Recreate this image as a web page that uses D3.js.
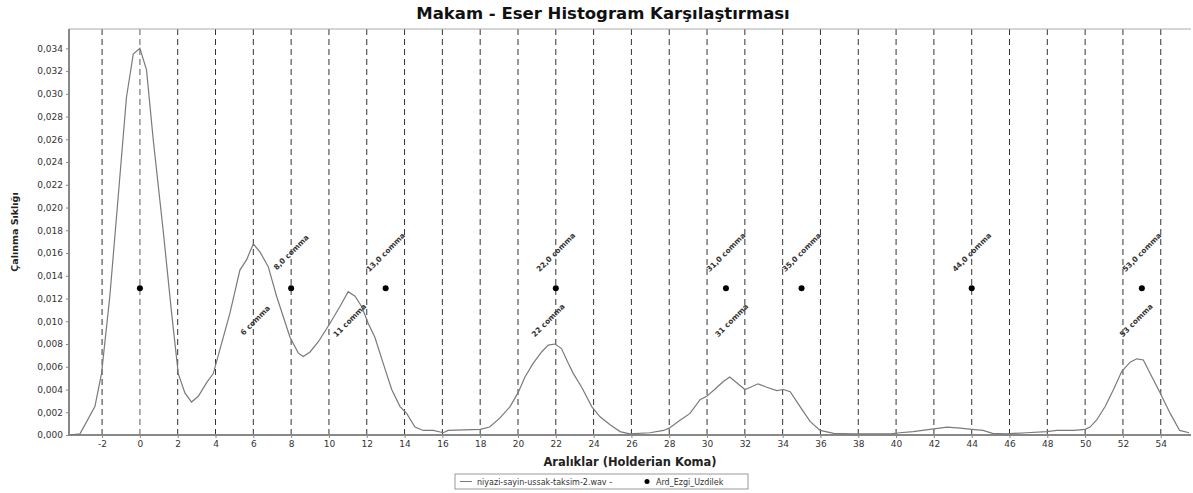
<!DOCTYPE html>
<html><head><meta charset="utf-8">
<script src="https://cdn.jsdelivr.net/npm/d3@7"></script>
<style>body{margin:0;background:#fff}svg{display:block}</style>
</head><body><svg id="c" width="1193" height="493"></svg>
<script>
const titleText = "Makam - Eser Histogram Karşılaştırması";
const xTitle = "Aralıklar (Holderian Koma)";
const yTitle = "Çalınma Sıklığı";
const seriesName = "niyazi-sayin-ussak-taksim-2.wav";
const pointSeriesName = "Ard_Ezgi_Uzdilek";
const xTicks = d3.range(-2, 55, 2);
const yTicks = d3.range(0, 0.0341, 0.002);
const curveX = [-3.75,-3.17,-2.38,-2.03,-1.59,-1.15,-0.71,-0.35,0,0.35,0.71,1.23,1.68,2.03,2.38,2.73,3.09,3.53,3.88,4.23,4.76,5.29,5.64,6.0,6.35,6.79,7.23,7.94,8.38,8.64,9.0,9.44,10.05,10.58,11.02,11.38,11.73,12.08,12.43,12.87,13.32,13.76,14.11,14.55,14.99,15.52,16.05,16.3,18.0,18.5,19.05,19.58,20.0,20.37,20.8,21.25,21.6,21.96,22.3,22.66,22.93,23.37,23.9,24.34,24.87,25.4,25.9,26.98,27.7,28.0,28.57,29.1,29.63,29.98,30.4,30.86,31.2,31.57,32.0,32.3,32.7,33.16,33.69,34.04,34.4,34.92,35.45,35.98,36.7,37.7,39.7,40.2,40.9,41.8,42.7,43.4,44.0,44.6,45.1,45.8,46.9,47.97,48.5,49.4,50.0,50.26,50.6,51.06,51.5,51.94,52.38,52.73,53.08,53.44,53.97,54.5,55.0,55.5];
const curveY = [0,0.0001,0.0025,0.0054,0.0122,0.0209,0.0297,0.0335,0.0340,0.0321,0.0259,0.0180,0.0107,0.0054,0.0037,0.0029,0.0034,0.0046,0.0054,0.0075,0.0107,0.0145,0.0154,0.0168,0.0161,0.0148,0.0122,0.0086,0.0072,0.0069,0.0073,0.0082,0.0098,0.0113,0.0126,0.0122,0.0113,0.0098,0.0086,0.0063,0.0040,0.0025,0.0019,0.0007,0.0004,0.0004,0.0002,0.0004,0.0005,0.0007,0.0015,0.0025,0.0037,0.0051,0.0063,0.0073,0.0079,0.0080,0.0076,0.0063,0.0054,0.0042,0.0025,0.0016,0.0009,0.0003,0.0001,0.0002,0.0004,0.0006,0.0013,0.0019,0.0031,0.0034,0.0040,0.0047,0.0051,0.0046,0.0040,0.0042,0.0045,0.0042,0.0039,0.0040,0.0038,0.0025,0.0012,0.0004,0.00015,0.0001,0.0001,0.0002,0.0003,0.0005,0.0007,0.0006,0.0005,0.0004,0.00015,0.0001,0.0002,0.0003,0.0004,0.0004,0.0005,0.0007,0.0013,0.0025,0.0040,0.0056,0.0064,0.0067,0.0066,0.0054,0.0037,0.0019,0.0004,0.0002];
const pointX = [0, 8, 13, 22, 31, 35, 44, 53];
const pointY = [0.0129, 0.0129, 0.0129, 0.0129, 0.0129, 0.0129, 0.0129, 0.0129];
const pointLabels = ["", "8,0 comma", "13,0 comma", "22,0 comma", "31,0 comma", "35,0 comma", "44,0 comma", "53,0 comma"];
const peakX = [6.1, 11.1, 21.6, 31.3, 52.7];
const peakLabels = ["6 comma", "11 comma", "22 comma", "31 comma", "53 comma"];

const svg = d3.select("#c");
const L = 69, R = 1191, T = 29, B = 435;
const x = d3.scaleLinear().domain([-3.75, 55.6]).range([L, R]);
const y = d3.scaleLinear().domain([0, 0.0357]).range([B, T]);
const font = "'DejaVu Sans', Verdana, sans-serif";

svg.append("text").attr("x", 603).attr("y", 19).attr("text-anchor", "middle")
  .attr("font-family", font).attr("font-weight", "bold").attr("font-size", 16.5)
  .attr("fill", "#111").text(titleText);

// dashed vertical lines
svg.append("g").selectAll("line").data(xTicks).join("line")
  .attr("x1", d => x(d)).attr("x2", d => x(d)).attr("y1", T).attr("y2", B)
  .attr("stroke", d => d === 0 ? "#999" : "#333").attr("stroke-width", d => d === 0 ? 1.6 : 1)
  .attr("stroke-dasharray", "6,4");

// frame lines
svg.append("line").attr("x1", L).attr("x2", R).attr("y1", T).attr("y2", T).attr("stroke", "#aaa");

// axes
const yAxis = d3.axisLeft(y).tickValues(yTicks).tickSize(3)
  .tickFormat(d => d3.format(".3f")(d).replace(".", ","));
const gy = svg.append("g").attr("transform", `translate(${L},0)`).call(yAxis);
const xAxis = d3.axisBottom(x).tickValues(xTicks).tickSize(3).tickFormat(d => String(d));
const gx = svg.append("g").attr("transform", `translate(0,${B})`).call(xAxis);
[gx, gy].forEach(g => {
  g.select(".domain").attr("stroke", "#888").attr("stroke-width", 2);
  g.selectAll(".tick line").attr("stroke", "#888");
  g.selectAll("text").attr("font-family", font).attr("font-size", 9).attr("fill", "#333");
});
gx.select(".domain").attr("d", `M${L},0H${R}`);
gy.select(".domain").attr("d", `M0,${T}V${B}`);

// curve
const data = curveX.map((d, i) => [d, curveY[i]]);
svg.append("path").datum(data)
  .attr("d", d3.line().x(d => x(d[0])).y(d => y(d[1])))
  .attr("fill", "none").attr("stroke", "#7a7a7a").attr("stroke-width", 1.2);

// points
const pts = pointX.map((d, i) => ({x: d, y: pointY[i], label: pointLabels[i]}));
svg.append("g").selectAll("circle").data(pts).join("circle")
  .attr("cx", d => x(d.x)).attr("cy", d => y(d.y)).attr("r", 3).attr("fill", "#000");
svg.append("g").selectAll("text").data(pts.filter(d => d.label)).join("text")
  .attr("transform", d => `translate(${x(d.x)},${y(d.y) - 36}) rotate(-45)`)
  .attr("text-anchor", "middle").attr("dy", "0.35em")
  .attr("font-family", font).attr("font-weight", "bold").attr("font-size", 7.5).attr("fill", "#333").text(d => d.label);
svg.append("g").selectAll("text").data(peakX.map((d, i) => ({x: d, label: peakLabels[i]}))).join("text")
  .attr("transform", d => `translate(${x(d.x)},${y(pointY[0]) + 32}) rotate(-45)`)
  .attr("text-anchor", "middle").attr("dy", "0.35em")
  .attr("font-family", font).attr("font-weight", "bold").attr("font-size", 7.5).attr("fill", "#333").text(d => d.label);

// axis titles
svg.append("text").attr("x", (L + R) / 2).attr("y", 466).attr("text-anchor", "middle")
  .attr("font-family", font).attr("font-weight", "bold").attr("font-size", 11.5)
  .attr("fill", "#222").text(xTitle);
svg.append("text").attr("transform", `translate(18,${(T + B) / 2}) rotate(-90)`)
  .attr("text-anchor", "middle").attr("font-family", font).attr("font-weight", "bold")
  .attr("font-size", 9.5).attr("fill", "#222").text(yTitle);

// legend
const lg = svg.append("g");
lg.append("rect").attr("x", 455).attr("y", 474).attr("width", 293).attr("height", 15)
  .attr("fill", "#fff").attr("stroke", "#999");
lg.append("line").attr("x1", 460).attr("x2", 472).attr("y1", 481.5).attr("y2", 481.5).attr("stroke", "#7a7a7a");
lg.append("text").attr("x", 477).attr("y", 484.5).attr("font-family", font).attr("font-size", 8)
  .attr("fill", "#333").text(seriesName + " -");
lg.append("circle").attr("cx", 647).attr("cy", 481.5).attr("r", 2.5).attr("fill", "#000");
lg.append("text").attr("x", 656).attr("y", 484.5).attr("font-family", font).attr("font-size", 8)
  .attr("fill", "#333").text(pointSeriesName);
</script></body></html>
